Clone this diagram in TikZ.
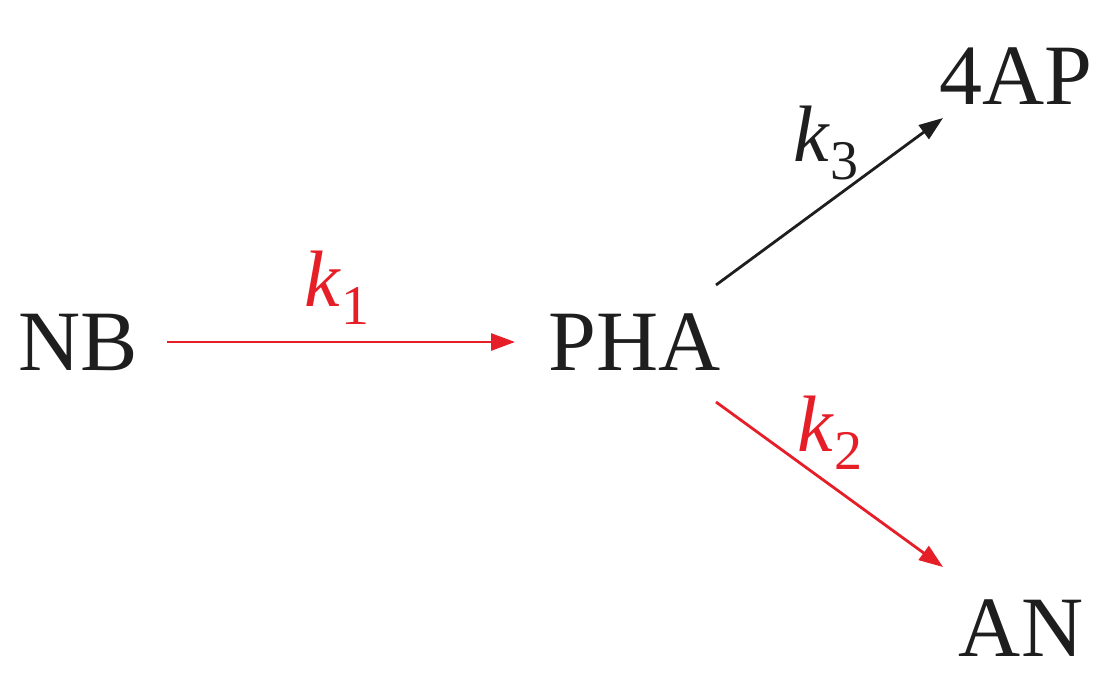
\documentclass[tikz,border=0pt]{standalone}
\usepackage{fontspec}
\setmainfont{Liberation Serif}
\usetikzlibrary{arrows.meta}
\definecolor{kred}{RGB}{230,30,40}
\definecolor{kblk}{RGB}{30,30,30}
\newcommand{\kk}[1]{\textit{k}\raisebox{-0.22em}{\fontsize{56}{60}\selectfont #1}}
\begin{document}
\begin{tikzpicture}[x=1pt,y=-1pt,
  lbl/.style={font=\fontsize{86}{92}\selectfont,text=kblk,inner sep=0pt},
  rate/.style={font=\fontsize{80}{86}\selectfont,inner sep=0pt},
  arr/.style={line width=2.8pt,-{Stealth[length=24pt,width=17pt,inset=0pt]}}]
\useasboundingbox (0,0) rectangle (1115,683);
\node[lbl] (NB) at (78,342) {NB};
\node[lbl] (PHA) at (635,342) {PHA};
\node[lbl] (AP) at (1016,76) {4AP};
\node[lbl] (AN) at (1021,628) {AN};
\coordinate (a1) at (167,342); \coordinate (b1) at (515,342);
\coordinate (a3) at (716,285); \coordinate (b3) at (943,118);
\coordinate (a2) at (716,402); \coordinate (b2) at (943,567);
\draw[arr,kred] (a1) -- (b1);
\draw[arr,kblk] (a3) -- (b3);
\draw[arr,kred] (a2) -- (b2);
\node[rate,text=kred] (k1) at (337,288) {\kk{1}};
\node[rate,text=kblk] (k3) at (826,143) {\kk{3}};
\node[rate,text=kred] (k2) at (830,433) {\kk{2}};
\end{tikzpicture}
\end{document}
